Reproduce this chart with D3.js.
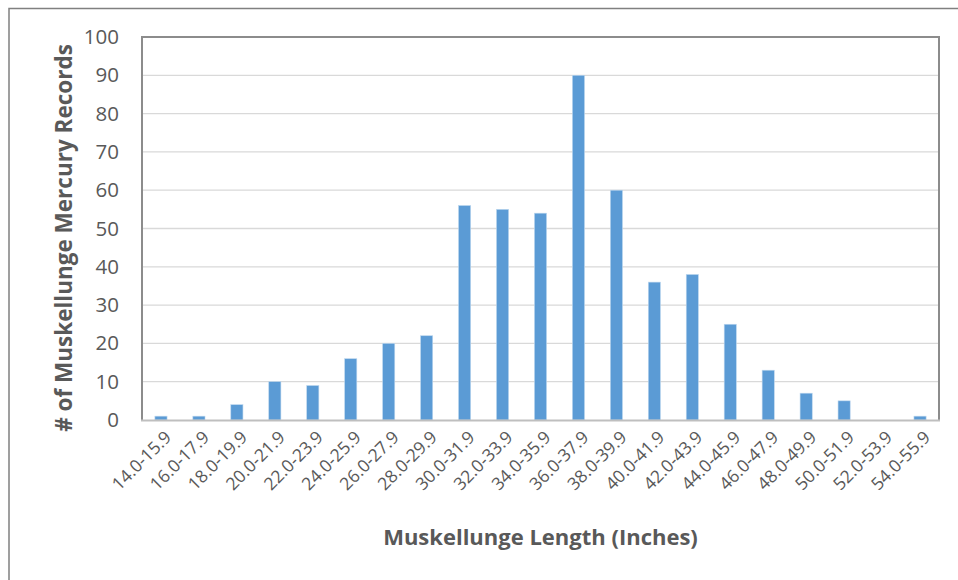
<!DOCTYPE html>
<html>
<head>
<meta charset="utf-8">
<script src="https://cdn.jsdelivr.net/npm/d3@7"></script>
<style>
  html, body { margin: 0; padding: 0; background: #fff; }
  svg { display: block; }
</style>
</head>
<body>
<svg id="chart" width="958" height="580"></svg>
<script>
// Length classes (inches) and count of muskellunge mercury records in each
const categories = [
  "14.0-15.9", "16.0-17.9", "18.0-19.9", "20.0-21.9", "22.0-23.9", "24.0-25.9",
  "26.0-27.9", "28.0-29.9", "30.0-31.9", "32.0-33.9", "34.0-35.9", "36.0-37.9",
  "38.0-39.9", "40.0-41.9", "42.0-43.9", "44.0-45.9", "46.0-47.9", "48.0-49.9",
  "50.0-51.9", "52.0-53.9", "54.0-55.9"
];
const records = [1, 1, 4, 10, 9, 16, 20, 22, 56, 55, 54, 90, 60, 36, 38, 25, 13, 7, 5, 0, 1];
const yTicks = [0, 10, 20, 30, 40, 50, 60, 70, 80, 90, 100];

const font = "'Open Sans', sans-serif";
const textColor = "#595959";

const svg = d3.select("#chart");
const W = 958, H = 580;
const plot = { left: 142, right: 939, top: 37, bottom: 420 };

// outer chart frame
svg.append("rect")
  .attr("x", 9).attr("y", 8.5)
  .attr("width", W + 10).attr("height", H + 10)
  .attr("fill", "none").attr("stroke", "#808080").attr("stroke-width", 1.5);

const x = d3.scaleBand()
  .domain(categories)
  .range([plot.left, plot.right])
  .paddingInner(0.68).paddingOuter(0.34);

const y = d3.scaleLinear().domain([0, 100]).range([plot.bottom, plot.top]);

// horizontal gridlines
svg.append("g")
  .selectAll("line")
  .data(yTicks.filter(d => d > 0))
  .join("line")
  .attr("x1", plot.left).attr("x2", plot.right)
  .attr("y1", d => y(d)).attr("y2", d => y(d))
  .attr("stroke", "#d9d9d9").attr("stroke-width", 1.3);

// bars
svg.append("g")
  .selectAll("rect")
  .data(records)
  .join("rect")
  .attr("x", (d, i) => x(categories[i]))
  .attr("y", d => y(d))
  .attr("width", x.bandwidth())
  .attr("height", d => y(0) - y(d))
  .attr("fill", "#5b9bd5")
  .attr("stroke", "#bdd7ee").attr("stroke-width", 0.6);

// plot area frame (left, top, right)
svg.append("path")
  .attr("d", `M${plot.left},${plot.bottom} V${plot.top} H${plot.right} V${plot.bottom + 1}`)
  .attr("fill", "none").attr("stroke", "#8c8c8c").attr("stroke-width", 2);

// category axis line
svg.append("line")
  .attr("x1", plot.left - 1).attr("x2", plot.right + 1)
  .attr("y1", plot.bottom + 0.5).attr("y2", plot.bottom + 0.5)
  .attr("stroke", "#bfbfbf").attr("stroke-width", 2);

// value axis labels
const yAxis = d3.axisLeft(y).tickValues(yTicks).tickSize(0).tickPadding(23);
svg.append("g")
  .attr("transform", `translate(${plot.left},0)`)
  .call(yAxis)
  .call(g => g.select(".domain").remove())
  .call(g => g.selectAll("text")
    .attr("fill", textColor)
    .style("font-family", font)
    .style("font-size", "20.5px"));

// category axis labels, rotated
const xAxis = d3.axisBottom(x).tickSize(0).tickPadding(0);
svg.append("g")
  .attr("transform", `translate(0,${plot.bottom})`)
  .call(xAxis)
  .call(g => g.select(".domain").remove())
  .call(g => g.selectAll("text")
    .attr("fill", textColor)
    .style("font-family", font)
    .style("font-size", "17.5px")
    .attr("text-anchor", "end")
    .attr("dy", "0.35em")
    .attr("transform", "translate(7,14) rotate(-45)"));

// axis titles
svg.append("text")
  .attr("x", 540.5).attr("y", 545)
  .attr("text-anchor", "middle")
  .attr("fill", textColor)
  .style("font-family", font).style("font-size", "22px").style("font-weight", "bold")
  .text("Muskellunge Length (Inches)");

svg.append("text")
  .attr("transform", "translate(72,238) rotate(-90)")
  .attr("text-anchor", "middle")
  .attr("fill", textColor)
  .style("font-family", font).style("font-size", "22.5px").style("font-weight", "bold")
  .text("# of Muskellunge Mercury Records");
</script>
</body>
</html>
